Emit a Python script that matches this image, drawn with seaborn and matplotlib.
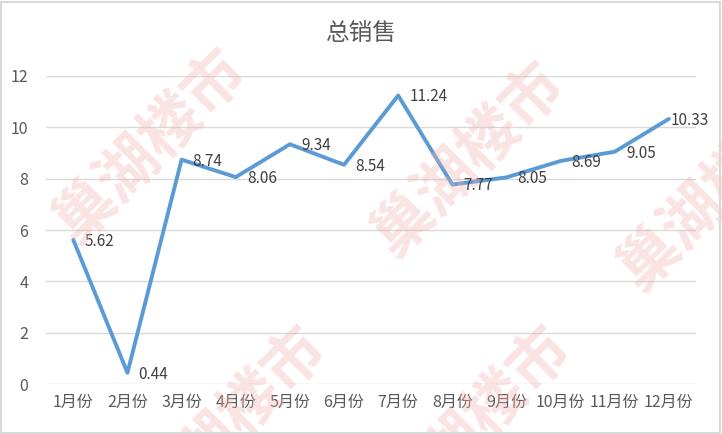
import matplotlib
matplotlib.use("Agg")
import matplotlib.pyplot as plt
import seaborn as sns
import pandas as pd
from matplotlib.patches import Rectangle

months = ['1月份', '2月份', '3月份', '4月份', '5月份', '6月份',
          '7月份', '8月份', '9月份', '10月份', '11月份', '12月份']
sales = [5.62, 0.44, 8.74, 8.06, 9.34, 8.54, 11.24, 7.77, 8.05, 8.69, 9.05, 10.33]
yticks = [0, 2, 4, 6, 8, 10, 12]

df = pd.DataFrame({'month': months, 'sales': sales})

sns.set_style('white')
plt.rcParams['font.family'] = ['Noto Sans CJK SC', 'DejaVu Sans']

fig = plt.figure(figsize=(7.22, 4.34), dpi=100)
ax = fig.add_axes([0.064, 0.115, 0.90, 0.71])

# watermark
wm = '巢湖楼市'
for (x, y) in [(0.21, 0.66), (0.65, 0.63), (0.32, 0.02), (0.66, 0.02), (0.99, 0.55)]:
    fig.text(x, y, wm, fontsize=44, color='#f2b0b0', alpha=0.35, rotation=45,
             ha='center', va='center', fontweight='bold', zorder=0)

for t in yticks:
    ax.axhline(t, color='#d9d9d9', lw=1, zorder=1)

sns.lineplot(data=df, x='month', y='sales', ax=ax, color='#5b9bd5',
             lw=2.8, sort=False, zorder=3)

n = len(months)
for i, v in enumerate(df['sales']):
    dx = 8 if i < n - 1 else 1
    ax.annotate(f'{v:.2f}', (i, v), xytext=(dx, -1), textcoords='offset points',
                ha='left', va='center', fontsize=11, color='#404040', zorder=4)

ax.set_xlim(-0.5, n - 0.5)
ax.set_ylim(0, 12)
ax.set_yticks(yticks)
ax.set_xlabel('')
ax.set_ylabel('')
ax.tick_params(axis='both', labelsize=11.5, colors='#595959', length=0, pad=7)
ax.tick_params(axis='y', pad=13)
for s in ax.spines.values():
    s.set_visible(False)
ax.patch.set_alpha(0)

fig.text(0.5, 0.922, '总销售', ha='center', va='center', fontsize=17, color='#595959')
fig.patches.append(Rectangle((0.002, 0.003), 0.995, 0.993, transform=fig.transFigure,
                             fill=False, edgecolor='#d9d9d9', lw=1.5))

fig.savefig('out.png', dpi=100)
